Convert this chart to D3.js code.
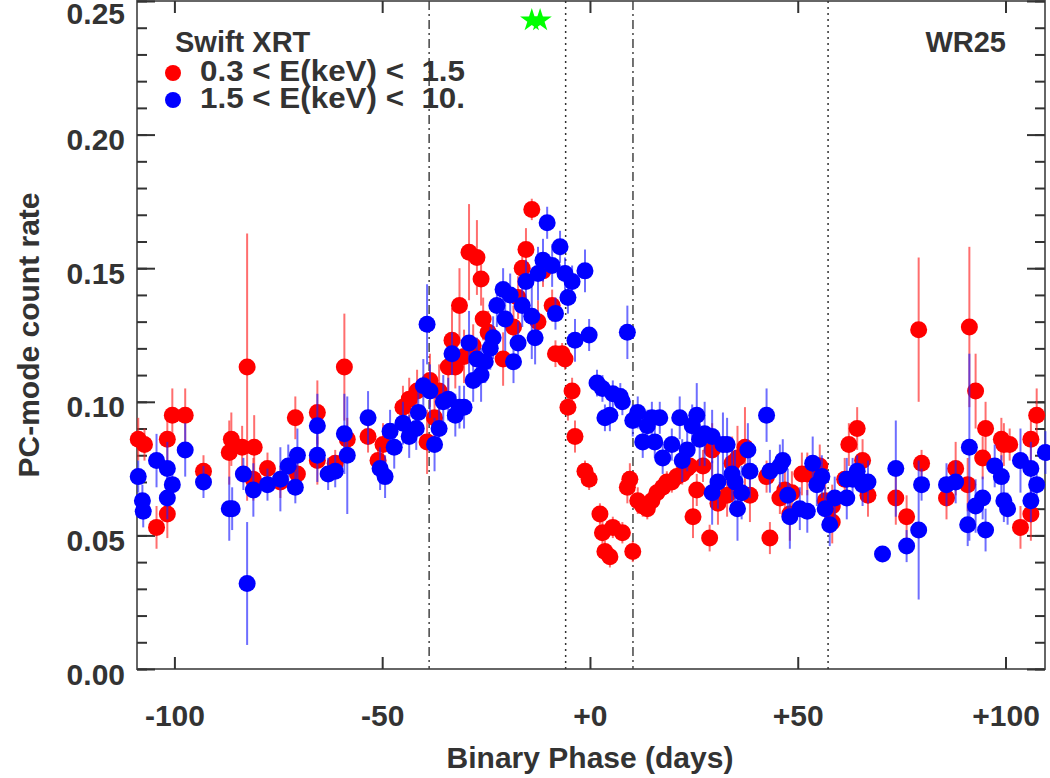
<!DOCTYPE html>
<html>
<head>
<meta charset="utf-8">
<script src="https://cdn.jsdelivr.net/npm/d3@7.9.0/dist/d3.min.js"></script>
<style>
  body { margin: 0; background: #fff; }
  svg { display: block; font-family: "Liberation Sans", Arial, sans-serif; font-weight: bold; }
</style>
</head>
<body>
<div id="chart"></div>
<script>
// [binary phase (days), count rate, error]
const softBand = [ // 0.3 < E < 1.5 keV
  [-108.7, 0.086, 0.008], [-107.2, 0.084, 0.006], [-104.3, 0.053, 0.008], [-101.7, 0.086, 0.008],
  [-101.7, 0.058, 0.009], [-100.5, 0.095, 0.010], [-97.4, 0.095, 0.010], [-93.0, 0.074, 0.006],
  [-86.8, 0.081, 0.012], [-86.3, 0.086, 0.010], [-83.7, 0.083, 0.008], [-82.5, 0.113, 0.050],
  [-80.8, 0.083, 0.012], [-81.0, 0.071, 0.008], [-77.6, 0.075, 0.006], [-74.5, 0.070, 0.006],
  [-70.9, 0.094, 0.008], [-70.4, 0.073, 0.007], [-65.6, 0.096, 0.012], [-65.6, 0.078, 0.009],
  [-61.3, 0.077, 0.005], [-59.1, 0.113, 0.020], [-58.4, 0.086, 0.008], [-53.4, 0.087, 0.006],
  [-51.0, 0.078, 0.006], [-49.8, 0.084, 0.008], [-45.0, 0.098, 0.008], [-43.5, 0.101, 0.008],
  [-41.6, 0.104, 0.008], [-39.2, 0.085, 0.012], [-38.5, 0.108, 0.010], [-37.4, 0.094, 0.008],
  [-36.3, 0.104, 0.010], [-34.1, 0.113, 0.010], [-33.2, 0.123, 0.012], [-32.4, 0.113, 0.008],
  [-31.4, 0.136, 0.014], [-30.3, 0.117, 0.010], [-29.1, 0.156, 0.018], [-28.1, 0.121, 0.008],
  [-27.2, 0.154, 0.014], [-26.2, 0.146, 0.010], [-25.7, 0.131, 0.008], [-24.5, 0.126, 0.008],
  [-20.9, 0.116, 0.010], [-18.4, 0.128, 0.008], [-17.3, 0.139, 0.008], [-16.3, 0.150, 0.008],
  [-15.4, 0.157, 0.008], [-14.0, 0.172, 0.004], [-12.5, 0.130, 0.008], [-11.3, 0.149, 0.006],
  [-9.1, 0.136, 0.006], [-8.3, 0.118, 0.005], [-6.7, 0.118, 0.004], [-6.0, 0.116, 0.004],
  [-4.3, 0.104, 0.005], [-5.3, 0.098, 0.005], [-3.6, 0.087, 0.006], [-1.2, 0.074, 0.004],
  [-0.2, 0.071, 0.004], [2.4, 0.058, 0.004], [3.0, 0.051, 0.004], [3.6, 0.044, 0.004],
  [4.8, 0.042, 0.004], [5.5, 0.053, 0.004], [7.8, 0.051, 0.004], [10.3, 0.044, 0.004],
  [9.0, 0.068, 0.006], [9.6, 0.071, 0.006], [11.5, 0.063, 0.005], [12.7, 0.061, 0.004],
  [13.8, 0.060, 0.004], [14.9, 0.063, 0.004], [16.1, 0.066, 0.004], [17.5, 0.068, 0.004],
  [18.5, 0.070, 0.004], [19.7, 0.070, 0.004], [20.9, 0.072, 0.004], [22.2, 0.073, 0.004],
  [23.4, 0.075, 0.004], [24.0, 0.076, 0.004], [24.8, 0.057, 0.008], [25.7, 0.067, 0.006],
  [27.2, 0.076, 0.006], [28.8, 0.049, 0.005], [29.4, 0.082, 0.010], [30.8, 0.062, 0.008],
  [33.0, 0.065, 0.008], [34.2, 0.077, 0.010], [35.5, 0.079, 0.012], [37.3, 0.083, 0.015],
  [38.5, 0.065, 0.010], [42.5, 0.072, 0.006], [43.3, 0.049, 0.006], [45.7, 0.064, 0.006],
  [46.9, 0.067, 0.008], [48.1, 0.058, 0.010], [48.6, 0.066, 0.008], [51.0, 0.073, 0.008],
  [52.3, 0.073, 0.008], [55.3, 0.076, 0.008], [56.6, 0.063, 0.010], [58.3, 0.061, 0.008],
  [58.3, 0.055, 0.008], [61.3, 0.071, 0.008], [62.3, 0.084, 0.008], [64.3, 0.090, 0.008],
  [65.6, 0.078, 0.008], [66.9, 0.065, 0.008], [73.6, 0.064, 0.010], [76.2, 0.057, 0.008],
  [79.1, 0.127, 0.027], [79.8, 0.077, 0.005], [85.8, 0.064, 0.008], [88.0, 0.075, 0.010],
  [90.9, 0.069, 0.010], [91.3, 0.128, 0.030], [92.8, 0.104, 0.014], [94.5, 0.079, 0.008],
  [95.2, 0.090, 0.010], [99.0, 0.086, 0.008], [99.6, 0.084, 0.008], [101.0, 0.084, 0.006],
  [103.6, 0.053, 0.008], [106.1, 0.086, 0.008], [106.1, 0.058, 0.010], [107.5, 0.095, 0.010]
];

const hardBand = [ // 1.5 < E < 10 keV
  [-108.7, 0.072, 0.006], [-107.7, 0.063, 0.006], [-107.5, 0.059, 0.006], [-104.3, 0.078, 0.010],
  [-101.7, 0.075, 0.010], [-101.7, 0.064, 0.008], [-100.5, 0.069, 0.006], [-97.4, 0.082, 0.010],
  [-93.0, 0.070, 0.006], [-86.8, 0.060, 0.012], [-86.1, 0.060, 0.008], [-83.4, 0.073, 0.006],
  [-82.5, 0.032, 0.023], [-81.0, 0.067, 0.010], [-77.6, 0.069, 0.006], [-74.5, 0.071, 0.012],
  [-72.6, 0.076, 0.008], [-70.9, 0.068, 0.006], [-70.4, 0.080, 0.010], [-65.6, 0.091, 0.012],
  [-65.6, 0.080, 0.010], [-63.0, 0.073, 0.006], [-61.3, 0.074, 0.006], [-59.1, 0.088, 0.015],
  [-58.4, 0.080, 0.022], [-53.4, 0.094, 0.010], [-50.5, 0.075, 0.008], [-49.3, 0.072, 0.008],
  [-48.1, 0.089, 0.008], [-47.1, 0.083, 0.008], [-45.0, 0.092, 0.008], [-43.5, 0.087, 0.008],
  [-41.8, 0.090, 0.008], [-41.3, 0.096, 0.008], [-40.1, 0.106, 0.010], [-39.2, 0.129, 0.015],
  [-38.5, 0.104, 0.010], [-37.4, 0.084, 0.010], [-36.3, 0.090, 0.008], [-35.3, 0.100, 0.010],
  [-34.1, 0.101, 0.008], [-33.2, 0.118, 0.008], [-32.4, 0.095, 0.008], [-31.4, 0.098, 0.008],
  [-30.3, 0.098, 0.008], [-29.1, 0.122, 0.012], [-28.1, 0.108, 0.008], [-27.2, 0.116, 0.008],
  [-26.2, 0.110, 0.010], [-25.2, 0.115, 0.008], [-24.0, 0.120, 0.008], [-23.3, 0.124, 0.008],
  [-22.4, 0.136, 0.008], [-20.9, 0.142, 0.008], [-20.4, 0.131, 0.012], [-19.2, 0.140, 0.008],
  [-18.4, 0.115, 0.008], [-17.3, 0.122, 0.008], [-16.3, 0.136, 0.008], [-15.4, 0.145, 0.008],
  [-14.0, 0.132, 0.016], [-13.2, 0.124, 0.010], [-12.5, 0.148, 0.010], [-11.3, 0.153, 0.008],
  [-10.3, 0.167, 0.006], [-9.1, 0.151, 0.008], [-8.3, 0.133, 0.006], [-7.2, 0.158, 0.006],
  [-6.0, 0.148, 0.006], [-5.3, 0.139, 0.006], [-4.3, 0.145, 0.006], [-3.6, 0.123, 0.008],
  [-1.2, 0.149, 0.008], [-0.2, 0.125, 0.006], [1.7, 0.107, 0.005], [3.0, 0.105, 0.005],
  [3.6, 0.094, 0.005], [5.5, 0.103, 0.005], [7.3, 0.102, 0.005], [7.8, 0.100, 0.005],
  [4.8, 0.095, 0.006], [9.0, 0.126, 0.010], [10.3, 0.093, 0.006], [11.5, 0.096, 0.006],
  [12.7, 0.085, 0.006], [13.8, 0.091, 0.006], [14.9, 0.094, 0.006], [15.6, 0.085, 0.006],
  [16.8, 0.094, 0.006], [17.5, 0.079, 0.006], [19.7, 0.084, 0.006], [21.6, 0.094, 0.008],
  [22.2, 0.078, 0.008], [23.4, 0.082, 0.008], [24.6, 0.091, 0.008], [25.7, 0.095, 0.012],
  [26.4, 0.086, 0.010], [27.6, 0.088, 0.012], [29.4, 0.087, 0.010], [29.4, 0.066, 0.012],
  [30.8, 0.070, 0.010], [32.0, 0.084, 0.012], [33.0, 0.084, 0.010], [34.2, 0.073, 0.010],
  [34.9, 0.070, 0.012], [35.5, 0.060, 0.012], [36.5, 0.066, 0.010], [38.0, 0.082, 0.010],
  [38.5, 0.074, 0.010], [42.5, 0.095, 0.010], [43.3, 0.074, 0.008], [45.7, 0.076, 0.008],
  [46.4, 0.078, 0.008], [47.6, 0.065, 0.010], [48.1, 0.057, 0.012], [50.5, 0.060, 0.008],
  [52.3, 0.059, 0.008], [53.6, 0.077, 0.010], [54.6, 0.069, 0.008], [55.8, 0.072, 0.008],
  [56.6, 0.060, 0.008], [57.7, 0.054, 0.008], [58.9, 0.064, 0.008], [61.8, 0.064, 0.008],
  [61.8, 0.071, 0.008], [63.2, 0.071, 0.008], [64.3, 0.074, 0.006], [65.6, 0.069, 0.008],
  [66.9, 0.070, 0.008], [70.4, 0.043, 0.003], [73.6, 0.075, 0.018], [76.2, 0.046, 0.006],
  [79.1, 0.052, 0.026], [79.8, 0.069, 0.006], [85.8, 0.069, 0.008], [88.0, 0.070, 0.008],
  [90.9, 0.054, 0.008], [91.3, 0.083, 0.035], [92.8, 0.061, 0.010], [94.5, 0.064, 0.008],
  [95.2, 0.052, 0.008], [97.4, 0.076, 0.008], [99.0, 0.072, 0.008], [99.6, 0.063, 0.008],
  [100.5, 0.060, 0.006], [103.6, 0.078, 0.012], [106.1, 0.075, 0.010], [106.1, 0.063, 0.008],
  [107.5, 0.069, 0.008], [109.6, 0.081, 0.008]
];

const dashDotPhases = [-38.7, 10.35];
const dottedPhases = [-5.85, 57.3];
const starPoints = [[-14.0, 0.2428], [-12.0, 0.2428]];
const xTicks = [-100, -50, 0, 50, 100];
const yTicks = [0, 0.05, 0.10, 0.15, 0.20, 0.25];
const yMinorTicks = d3.range(0, 26).map(i => i / 100);
const legendItems = [
  { label: '0.3 < E(keV) <  1.5', color: '#ff0000' },
  { label: '1.5 < E(keV) <  10.', color: '#0000ff' }
];

const width = 1050;
const height = 778;
const plot = { left: 137, right: 1045, top: 1, bottom: 669 };

const svg = d3.select('#chart').append('svg')
  .attr('width', width)
  .attr('height', height);

const x = d3.scaleLinear().domain([-109, 109.5]).range([plot.left, plot.right]);
const y = d3.scaleLinear().domain([0, 0.25]).range([plot.bottom, plot.top]);

const textColor = '#333';

// frame
svg.append('rect')
  .attr('x', plot.left).attr('y', plot.top)
  .attr('width', plot.right - plot.left).attr('height', plot.bottom - plot.top)
  .attr('fill', 'none').attr('stroke', '#666').attr('stroke-width', 2);

// vertical reference lines
svg.append('g').selectAll('line')
  .data(dashDotPhases)
  .join('line')
  .attr('x1', d => x(d)).attr('x2', d => x(d))
  .attr('y1', plot.top).attr('y2', plot.bottom)
  .attr('stroke', '#444').attr('stroke-width', 1.5)
  .attr('stroke-dasharray', '9 4 2 4');

svg.append('g').selectAll('line')
  .data(dottedPhases)
  .join('line')
  .attr('x1', d => x(d)).attr('x2', d => x(d))
  .attr('y1', plot.top).attr('y2', plot.bottom)
  .attr('stroke', '#333').attr('stroke-width', 1.5)
  .attr('stroke-dasharray', '2 4');

// axes
function styleAxis(g) {
  g.select('.domain').remove();
  g.selectAll('.tick line').attr('stroke', '#333').attr('stroke-width', 2);
  g.selectAll('.tick text')
    .attr('fill', textColor)
    .style('font-size', '30px')
    .style('font-weight', 'bold')
    .style('font-family', '"Liberation Sans", Arial, sans-serif');
}

svg.append('g')
  .attr('transform', `translate(${plot.left},0)`)
  .call(d3.axisLeft(y).tickValues(yMinorTicks).tickSize(-10).tickFormat(''))
  .call(styleAxis);
svg.append('g')
  .attr('transform', `translate(${plot.left},0)`)
  .call(d3.axisLeft(y).tickValues(yTicks).tickSize(-18).tickPadding(12).tickFormat(d3.format('.2f')))
  .call(styleAxis)
  .call(g => g.selectAll('.tick text').attr('dy', d => d === 0.25 ? '0.75em' : '0.5em'));

svg.append('g')
  .attr('transform', `translate(${plot.right},0)`)
  .call(d3.axisRight(y).tickValues(yMinorTicks).tickSize(-10).tickFormat(''))
  .call(styleAxis);
svg.append('g')
  .attr('transform', `translate(${plot.right},0)`)
  .call(d3.axisRight(y).tickValues(yTicks).tickSize(-18).tickFormat(''))
  .call(styleAxis);

svg.append('g')
  .attr('transform', `translate(0,${plot.bottom})`)
  .call(d3.axisBottom(x).tickValues(xTicks).tickSize(-12).tickPadding(36)
    .tickFormat(d => (d >= 0 ? '+' : '') + d))
  .call(styleAxis);
svg.append('g')
  .attr('transform', `translate(0,${plot.top})`)
  .call(d3.axisTop(x).tickValues(xTicks).tickSize(-12).tickFormat(''))
  .call(styleAxis);

// axis titles
svg.append('text')
  .attr('x', 590).attr('y', 768)
  .attr('text-anchor', 'middle')
  .attr('fill', textColor)
  .style('font-size', '30px')
  .text('Binary Phase (days)');

svg.append('text')
  .attr('transform', 'translate(39,335) rotate(-90)')
  .attr('text-anchor', 'middle')
  .attr('fill', textColor)
  .style('font-size', '30px')
  .text('PC-mode count rate');

// data series
function drawSeries(data, color, errColor) {
  const g = svg.append('g');
  g.selectAll('line')
    .data(data)
    .join('line')
    .attr('x1', d => x(d[0])).attr('x2', d => x(d[0]))
    .attr('y1', d => y(d[1] - d[2])).attr('y2', d => y(d[1] + d[2]))
    .attr('stroke', errColor).attr('stroke-width', 2).attr('stroke-opacity', 0.65);
  g.selectAll('circle')
    .data(data)
    .join('circle')
    .attr('cx', d => x(d[0]))
    .attr('cy', d => y(d[1]))
    .attr('r', 8.5)
    .attr('fill', color);
}

drawSeries(softBand, '#ff0000', '#ff2020');
drawSeries(hardBand, '#0000ff', '#2020ff');

// stars
svg.append('g').selectAll('path')
  .data(starPoints)
  .join('path')
  .attr('transform', d => `translate(${x(d[0])},${y(d[1])})`)
  .attr('d', d3.symbol(d3.symbolStar, 170))
  .attr('fill', '#00ff00');

// legend
svg.append('text')
  .attr('x', 175).attr('y', 52)
  .attr('fill', textColor)
  .style('font-size', '29px')
  .text('Swift XRT');

const legend = svg.append('g');
legend.selectAll('circle')
  .data(legendItems)
  .join('circle')
  .attr('cx', 173)
  .attr('cy', (d, i) => 73 + i * 27)
  .attr('r', 8)
  .attr('fill', d => d.color);
legend.selectAll('text')
  .data(legendItems)
  .join('text')
  .attr('x', 200)
  .attr('y', (d, i) => 81 + i * 27)
  .attr('fill', textColor)
  .attr('textLength', 265)
  .attr('lengthAdjust', 'spacingAndGlyphs')
  .style('font-size', '29px')
  .style('white-space', 'pre')
  .text(d => d.label);

svg.append('text')
  .attr('x', 1006).attr('y', 52)
  .attr('text-anchor', 'end')
  .attr('fill', textColor)
  .style('font-size', '29px')
  .text('WR25');
</script>
</body>
</html>
